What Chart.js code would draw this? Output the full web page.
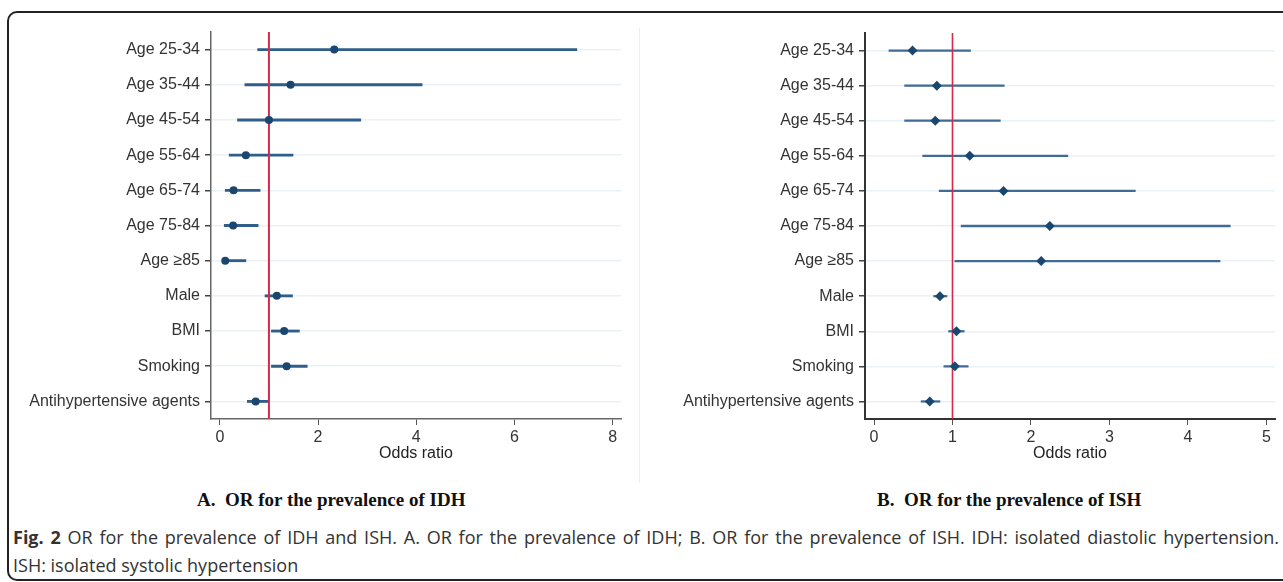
<!DOCTYPE html>
<html>
<head>
<meta charset="utf-8">
<script src="https://cdn.jsdelivr.net/npm/chart.js@4.4.0/dist/chart.umd.min.js"></script>
<style>
  body { margin: 0; width: 1283px; height: 582px; background: #fff; overflow: hidden; position: relative; }
  #frame { position: absolute; left: 7px; top: 11px; width: 1290px; height: 566px; border: 2px solid #222; border-radius: 10px; }
  #divider { position: absolute; left: 639px; top: 28px; width: 1px; height: 455px; background: #eceff1; }
  .panel { position: absolute; top: 0; height: 463px; }
  #left { left: 0; width: 640px; }
  #right { left: 640px; width: 643px; }
  .title { position: absolute; top: 489px; line-height: 24px; font: bold 19px 'Liberation Serif', 'Times New Roman', serif; color: #111; white-space: pre; }
  .caption { position: absolute; left: 13px; width: 1266px; font-family: 'Open Sans', sans-serif; font-size: 18px; line-height: 28px; color: #333; }
  #cap1 { top: 523px; text-align: justify; text-align-last: justify; white-space: nowrap; }
  #cap2 { top: 551px; }
</style>
</head>
<body>
<div id="frame"></div>
<div id="divider"></div>
<div class="panel" id="left"><canvas id="chartA"></canvas></div>
<div class="panel" id="right"><canvas id="chartB"></canvas></div>
<div class="title" style="left:197px">A.  OR for the prevalence of IDH</div>
<div class="title" style="left:877px">B.  OR for the prevalence of ISH</div>
<div class="caption" id="cap1"><b>Fig. 2</b> OR for the prevalence of IDH and ISH. A. OR for the prevalence of IDH; B. OR for the prevalence of ISH. IDH: isolated diastolic hypertension.</div>
<div class="caption" id="cap2">ISH: isolated systolic hypertension</div>
<script>
const labels = ['Age 25-34', 'Age 35-44', 'Age 45-54', 'Age 55-64', 'Age 65-74', 'Age 75-84', 'Age ≥85',
    'Male', 'BMI', 'Smoking', 'Antihypertensive agents'];

// A: isolated diastolic hypertension
const idhOR   = [2.33, 1.44, 1.00, 0.53, 0.28, 0.27, 0.11, 1.16, 1.31, 1.36, 0.73];
const idhLow  = [0.77, 0.51, 0.36, 0.19, 0.11, 0.09, 0.05, 0.92, 1.05, 1.05, 0.56];
const idhHigh = [7.27, 4.12, 2.87, 1.49, 0.82, 0.78, 0.53, 1.48, 1.62, 1.78, 0.98];
const idhTicks = [0, 2, 4, 6, 8];

// B: isolated systolic hypertension
const ishOR   = [0.49, 0.80, 0.78, 1.22, 1.65, 2.24, 2.13, 0.84, 1.05, 1.03, 0.71];
const ishLow  = [0.19, 0.39, 0.39, 0.62, 0.83, 1.11, 1.03, 0.76, 0.95, 0.89, 0.60];
const ishHigh = [1.23, 1.66, 1.61, 2.47, 3.33, 4.54, 4.41, 0.93, 1.15, 1.20, 0.84];
const ishTicks = [0, 1, 2, 3, 4, 5];

const sans = "'Liberation Sans', Arial, sans-serif";

const refLine = {
    id: 'refLine',
    afterDatasetDraw(chart, args, opts) {
        if (args.index !== 0) return;
        const x = chart.scales.x.getPixelForValue(opts.value);
        const { top, bottom } = chart.chartArea;
        const ctx = chart.ctx;
        ctx.save();
        ctx.strokeStyle = opts.color;
        ctx.lineWidth = opts.width;
        ctx.beginPath();
        ctx.moveTo(x, top);
        ctx.lineTo(x, bottom);
        ctx.stroke();
        ctx.restore();
    }
};

function forestChart(id, p) {
    const ranges = p.low.map((lo, i) => [lo, p.high[i]]);
    return new Chart(document.getElementById(id), {
        type: 'bar',
        data: {
            labels: labels,
            datasets: [{
                data: ranges,
                backgroundColor: p.ciColor,
                borderWidth: 0,
                borderSkipped: false,
                barThickness: p.ciWidth,
                order: 2
            }, {
                type: 'line',
                data: p.or,
                showLine: false,
                pointStyle: p.marker,
                pointRadius: p.markerSize,
                pointBackgroundColor: '#1a476f',
                pointBorderWidth: 0,
                order: 1
            }]
        },
        options: {
            indexAxis: 'y',
            responsive: true,
            maintainAspectRatio: false,
            animation: false,
            layout: { padding: { top: p.top, right: p.right, left: 0, bottom: 0 } },
            plugins: {
                legend: { display: false },
                tooltip: { enabled: false },
                refLine: { value: 1, color: '#d42a4c', width: p.refWidth }
            },
            scales: {
                y: {
                    type: 'category',
                    offset: true,
                    afterFit: s => { s.width = p.axisLeft; },
                    grid: { offset: false, color: '#eaf2f5', lineWidth: 1.5, tickColor: '#444', tickLength: 6 },
                    border: { color: p.axisColor, width: p.axisWidth },
                    ticks: { color: '#333', padding: 5, font: { family: sans, size: 16 } }
                },
                x: {
                    type: 'linear',
                    min: p.min,
                    max: p.max,
                    afterFit: s => { s.height = 44; },
                    afterBuildTicks: s => { s.ticks = p.ticks.map(v => ({ value: v })); },
                    grid: { drawOnChartArea: false, tickColor: '#555', tickLength: 6 },
                    border: { color: p.axisColor, width: p.axisWidth },
                    ticks: { color: '#333', padding: 3, font: { family: sans, size: 16 } },
                    title: { display: true, text: 'Odds ratio', color: '#222', padding: 0, font: { family: sans, size: 16 } }
                }
            }
        },
        plugins: [refLine]
    });
}

forestChart('chartA', {
    or: idhOR, low: idhLow, high: idhHigh, ticks: idhTicks,
    min: -0.18, max: 8.17, axisLeft: 211, top: 32, right: 19,
    ciColor: '#2f5e8a', ciWidth: 2.2, marker: 'circle', markerSize: 4,
    refWidth: 2, axisColor: '#666', axisWidth: 1.5
});

forestChart('chartB', {
    or: ishOR, low: ishLow, high: ishHigh, ticks: ishTicks,
    min: -0.115, max: 5.11, axisLeft: 225, top: 33, right: 8,
    ciColor: '#3f6b96', ciWidth: 1.6, marker: 'rectRot', markerSize: 5,
    refWidth: 1.6, axisColor: '#333', axisWidth: 2
});
</script>
</body>
</html>
